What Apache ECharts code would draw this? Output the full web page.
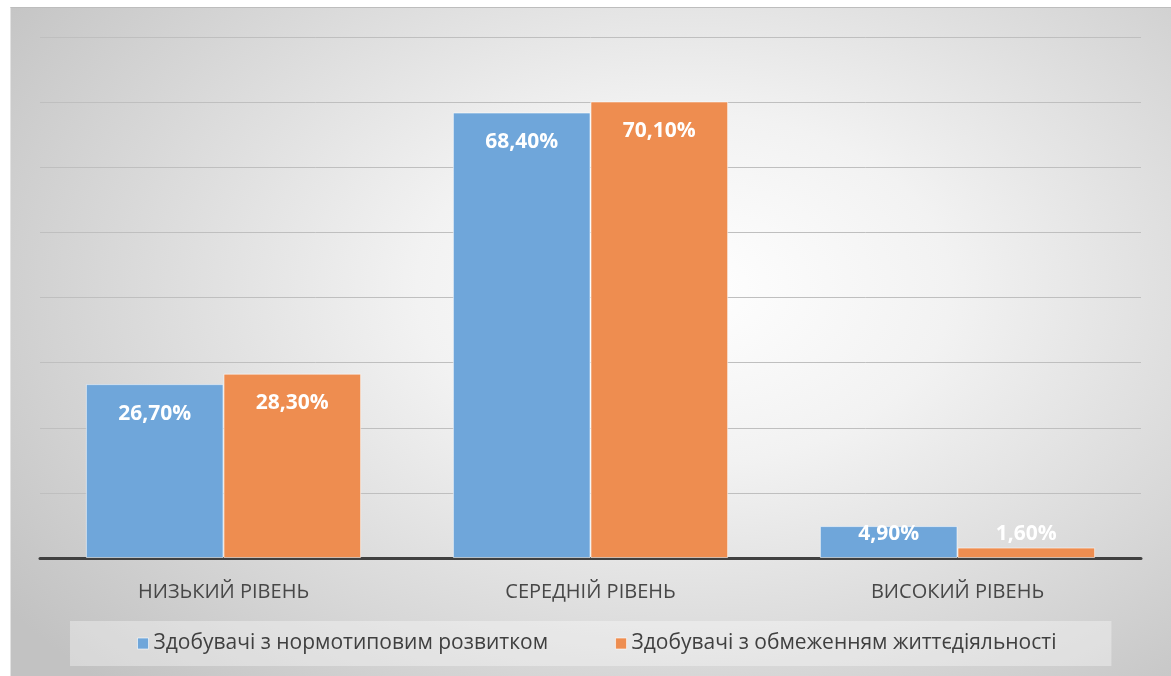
<!DOCTYPE html>
<html>
<head>
<meta charset="utf-8">
<script src="https://cdn.jsdelivr.net/npm/echarts@6/dist/echarts.min.js"></script>
<style>
	body { margin: 0; background: #fff; }
	#panel {
		position: absolute; left: 10px; top: 7px; width: 1161px; height: 669px;
		border-top: 1px solid #bdbdbd; border-left: 1px solid #e2e2e2; box-sizing: border-box;
		background: radial-gradient(ellipse 72% 82% at 58% 42%, #ffffff 0%, #f2f2f2 32%, #c2c2c2 100%);
	}
	#main { position: absolute; left: 0; top: 0; width: 1171px; height: 676px; }
</style>
</head>
<body>
<div id="panel"></div>
<div id="main"></div>
<script>
	// рівні
	const categories = ['НИЗЬКИЙ РІВЕНЬ', 'СЕРЕДНІЙ РІВЕНЬ', 'ВИСОКИЙ РІВЕНЬ'];
	const seriesNames = ['Здобувачі з нормотиповим розвитком', 'Здобувачі з обмеженням життєдіяльності'];
	const normalValues = [26.7, 68.4, 4.9];
	const limitedValues = [28.3, 70.1, 1.6];

	const colors = ['#6fa6da', '#ee8d50'];

	let fmt = function (p) {
		return p.value.toFixed(2).replace('.', ',') + '%';
	};

	// короткі стовпці — підпис над віссю
	let toData = function (arr) {
		return arr.map(v => {
			if (v < 10) {
				return { value: v, label: { position: 'insideBottom', distance: 13 } };
			}
			return v;
		});
	};

	let myChart = echarts.init(document.getElementById('main'));
	let option = {
		backgroundColor: 'transparent',
		animation: false,
		grid: {
			left: 40,
			right: 30,
			top: 37,
			bottom: 118
		},
		legend: {
			left: 70,
			top: 621,
			padding: [12, 55, 12, 67],
			backgroundColor: 'rgba(255,255,255,0.35)',
			icon: 'rect',
			itemWidth: 11,
			itemHeight: 11,
			itemGap: 67,
			itemStyle: { borderColor: 'rgba(255,255,255,0.6)', borderWidth: 1 },
			textStyle: {
				fontFamily: 'Open Sans',
				fontSize: 21,
				lineHeight: 20,
				color: '#404040'
			},
			data: seriesNames
		},
		xAxis: {
			type: 'category',
			data: categories,
			axisLine: { lineStyle: { color: '#404040', width: 3 } },
			axisTick: { show: false },
			axisLabel: {
				margin: 24,
				fontFamily: 'Open Sans',
				fontSize: 20,
				color: '#474747'
			}
		},
		yAxis: {
			type: 'value',
			min: 0,
			max: 80,
			interval: 10,
			axisLabel: { show: false },
			axisLine: { show: false },
			axisTick: { show: false },
			splitLine: { lineStyle: { color: '#bfbfbf', width: 1 } }
		},
		series: [{
			name: seriesNames[0],
			type: 'bar',
			data: toData(normalValues),
			barGap: '0%',
			barCategoryGap: '25%',
			itemStyle: { color: colors[0], borderColor: 'rgba(255,255,255,0.55)', borderWidth: 1 },
			label: {
				show: true,
				position: 'insideTop',
				distance: 19,
				formatter: fmt,
				color: '#fff',
				fontFamily: 'Open Sans',
				fontWeight: 'bold',
				fontSize: 21
			}
		}, {
			name: seriesNames[1],
			type: 'bar',
			data: toData(limitedValues),
			itemStyle: { color: colors[1], borderColor: 'rgba(255,255,255,0.55)', borderWidth: 1 },
			label: {
				show: true,
				position: 'insideTop',
				distance: 19,
				formatter: fmt,
				color: '#fff',
				fontFamily: 'Open Sans',
				fontWeight: 'bold',
				fontSize: 21
			}
		}]
	};
	myChart.setOption(option);
</script>
</body>
</html>
